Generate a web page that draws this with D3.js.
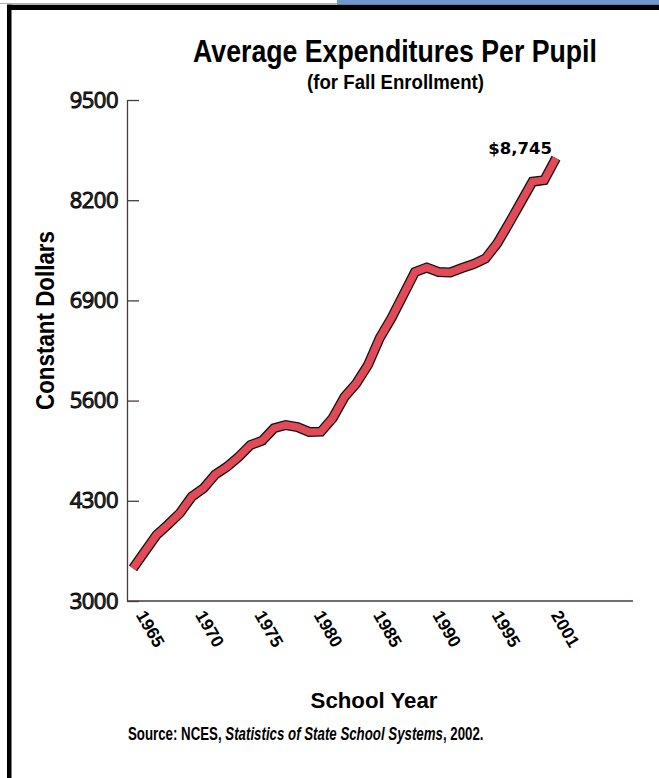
<!DOCTYPE html>
<html><head><meta charset="utf-8">
<script src="https://cdn.jsdelivr.net/npm/d3@7"></script>
<style>body{margin:0;background:#fff;} svg{display:block}</style>
</head><body>
<svg id="chart" width="659" height="778"></svg>
<script>
// ---- data ----
const years = [1965,1966,1967,1968,1969,1970,1971,1972,1973,1974,1975,1976,1977,1978,1979,1980,1981,1982,1983,1984,1985,1986,1987,1988,1989,1990,1991,1992,1993,1994,1995,1996,1997,1998,1999,2000,2001];
const expenditures = [3422,3640,3856,3994,4142,4353,4462,4641,4742,4872,5024,5080,5241,5283,5257,5193,5197,5374,5647,5822,6062,6412,6672,6970,7268,7327,7268,7262,7320,7372,7444,7640,7900,8170,8440,8460,8745];
const yTicks = [3000,4300,5600,6900,8200,9500];
const xTickLabels = ["1965","1970","1975","1980","1985","1990","1995","2001"];
const titleText = "Average Expenditures Per Pupil";
const subtitleText = "(for Fall Enrollment)";
const yLabelText = "Constant Dollars";
const xLabelText = "School Year";
const lastLabel = "$8,745";

const svg = d3.select("#chart");
const W = 659, H = 778;
const plot = {left:127, right:633, top:100, bottom:601};

// frame decorations
svg.append("line").attr("x1",0).attr("x2",337).attr("y1",3.5).attr("y2",3.5).attr("stroke","#b0b0b0").attr("stroke-width",1);
svg.append("rect").attr("x",337).attr("y",0).attr("width",W-337).attr("height",4.7).attr("fill","#7197d0");
svg.append("rect").attr("x",7).attr("y",4.7).attr("width",W-7).attr("height",5.3).attr("fill","#000");
svg.append("rect").attr("x",7).attr("y",4.7).attr("width",4.5).attr("height",H).attr("fill","#000");

// scales
const x = d3.scaleLinear().domain([1965,2001]).range([133,556]);
const y = d3.scaleLinear().domain([3000,9500]).range([plot.bottom, plot.top]);
const xLab = d3.scalePoint().domain(xTickLabels).range([135,550]);

const axisColor = "#4a3a3c";

// y axis
const yAxis = svg.append("g").attr("transform",`translate(${plot.left},0)`)
  .call(d3.axisLeft(y).tickValues(yTicks).tickSizeInner(-12).tickSizeOuter(0).tickPadding(9).tickFormat(d3.format("d")));
yAxis.select(".domain").attr("stroke",axisColor).attr("stroke-width",1.3);
yAxis.selectAll(".tick line").attr("stroke",axisColor).attr("stroke-width",1.3);
yAxis.selectAll(".tick text")
  .attr("font-family","'Open Sans', sans-serif").attr("font-size",22)
  .attr("letter-spacing","-0.5")
  .attr("fill","#3a3a3a").attr("stroke","#000").attr("stroke-width",0.9);

// x axis line
svg.append("line").attr("x1",plot.left).attr("x2",plot.right)
  .attr("y1",y(3000)).attr("y2",y(3000)).attr("stroke",axisColor).attr("stroke-width",1.3);

// x tick labels
const xAxis = svg.append("g").attr("transform",`translate(0,${plot.bottom})`)
  .call(d3.axisBottom(xLab).tickSize(0).tickPadding(0));
xAxis.select(".domain").remove();
xAxis.selectAll(".tick text")
  .attr("x",0).attr("y",0).attr("dy",0)
  .attr("transform","translate(0,14) rotate(60)")
  .style("text-anchor","start")
  .attr("font-family","'Liberation Sans', Arial, sans-serif").attr("font-weight","bold")
  .attr("font-size",17.5).attr("fill","#000");

// line
const data = years.map((yr,i)=>({yr, v:expenditures[i]}));
const line = d3.line().x(d=>x(d.yr)).y(d=>y(d.v));
svg.append("path").datum(data).attr("d",line).attr("fill","none")
  .attr("stroke","#111").attr("stroke-width",10).attr("stroke-linejoin","miter").attr("stroke-linecap","butt");
svg.append("path").datum(data).attr("d",line).attr("fill","none")
  .attr("stroke","#e24a57").attr("stroke-width",7.4).attr("stroke-linejoin","miter").attr("stroke-linecap","butt");

// end label
const last = data[data.length-1];
svg.append("text").attr("x",x(last.yr)-4).attr("y",y(last.v)-4.5)
  .attr("text-anchor","end").attr("font-family","'DejaVu Sans', sans-serif").attr("font-weight","bold")
  .attr("font-size",16.5).attr("fill","#000").text(lastLabel);

// helper to fit width horizontally
function fit(sel, tx, ty, width, rot) {
  const w = sel.node().getComputedTextLength();
  const k = width / w;
  sel.attr("x",0).attr("y",0)
     .attr("transform",`translate(${tx},${ty})${rot?` rotate(${rot})`:""} scale(${k},1)`);
}
const bold = "'Liberation Sans', Arial, sans-serif";

const t1 = svg.append("text").attr("text-anchor","middle").attr("font-family",bold).attr("font-weight","bold")
  .attr("font-size",32).attr("fill","#000").text(titleText);
fit(t1, 395, 62, 404);
const t2 = svg.append("text").attr("text-anchor","middle").attr("font-family",bold).attr("font-weight","bold")
  .attr("font-size",20).attr("fill","#000").text(subtitleText);
fit(t2, 395.5, 89, 177);

const yl = svg.append("text").attr("text-anchor","middle").attr("font-family",bold).attr("font-weight","bold")
  .attr("font-size",25).attr("fill","#000").text(yLabelText);
fit(yl, 54, 320.5, 179, -90);

const xl = svg.append("text").attr("text-anchor","middle").attr("font-family",bold).attr("font-weight","bold")
  .attr("font-size",22).attr("fill","#000").text(xLabelText);
fit(xl, 374, 708, 127);

const src = svg.append("text").attr("text-anchor","start").attr("font-family",bold).attr("font-weight","bold")
  .attr("font-size",17.5).attr("fill","#000");
src.append("tspan").text("Source: NCES, ");
src.append("tspan").attr("font-style","italic").text("Statistics of State School Systems");
src.append("tspan").text(", 2002.");
fit(src, 128, 740, 356);
</script>
</body></html>
